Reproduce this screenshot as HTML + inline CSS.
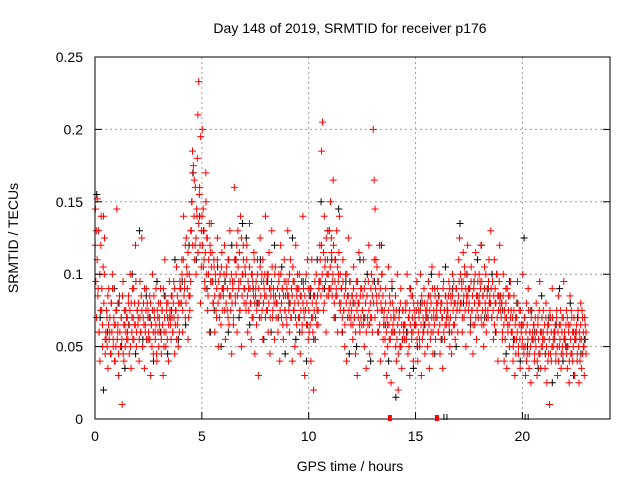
<!DOCTYPE html>
<html><head><meta charset="utf-8"><style>
body{margin:0;background:#fff}
svg{display:block;font-family:"Liberation Sans",sans-serif}
</style></head><body>
<svg id="c" width="640" height="480">
<text x="350" y="33" text-anchor="middle" font-size="14">Day 148 of 2019, SRMTID for receiver p176</text>
<text x="350" y="471" text-anchor="middle" font-size="14">GPS time / hours</text>
<text transform="translate(18,238) rotate(-90)" text-anchor="middle" font-size="14">SRMTID / TECUs</text>
<g id="grid"></g><g id="pts"></g><g id="axes"></g>
</svg>
<script>
const xTicks=[0,5,10,15,20];
const yTicks=[0,0.05,0.1,0.15,0.2,0.25];
const yTickLabels=["0","0.05","0.1","0.15","0.2","0.25"];
const groupStartHours=[0,0.5,1,1.5,2,2.5,3,3.5,4,4.5,5,5.5,6,6.5,7,7.5,8,8.5,9,9.5,10,10.5,11,11.5,12,12.5,13,13.5,14,14.5,15,15.5,16,16.5,17,17.5,18,18.5,19,19.5,20,20.5,21,21.5,22,22.5];
const redMilli=[
[145,130,152,90,60,40,120,75,50,140,100,45],[55,70,35,90,60,45,80,100,50,65,40,75],
[145,60,30,85,50,70,10,95,40,65,75,55],[60,80,45,100,35,70,55,90,65,120,50,75],
[70,40,95,60,125,50,80,35,65,90,55,75],[55,85,30,65,100,45,75,60,90,40,70,50],
[65,90,45,75,30,60,110,50,80,70,40,95],[70,55,85,60,95,45,75,105,65,50,80,90],
[80,110,60,140,90,70,125,100,55,85,75,130],[150,185,175,165,120,100,140,210,233,160,80,130],
[200,145,110,90,170,125,75,100,60,115,135,95],[80,110,60,95,70,125,50,85,100,65,115,90],
[90,120,55,100,75,110,65,130,85,45,95,70],[160,85,110,60,130,95,75,140,50,100,120,80],
[105,75,120,60,90,135,80,55,100,70,115,45],[90,65,110,30,80,125,70,100,55,95,85,140],
[75,100,60,115,45,90,130,70,85,55,105,80],[80,60,100,40,120,70,90,55,110,75,95,65],
[130,85,60,110,70,40,95,75,50,120,65,90],[70,100,45,85,60,140,75,30,95,65,110,55],
[60,90,40,110,70,20,85,55,100,75,65,95],[120,95,185,205,75,140,110,60,100,130,85,90],
[150,125,95,165,70,110,85,130,60,100,140,75],[90,60,110,75,50,100,40,85,125,70,95,65],
[85,55,105,70,45,95,30,80,115,60,90,65],[75,110,50,95,35,85,65,120,45,70,100,60],
[200,165,145,110,80,95,60,120,40,75,100,55],[70,45,90,30,65,105,55,80,25,95,60,75],
[60,85,40,100,20,70,50,90,35,75,65,55],[80,55,100,45,70,30,90,60,85,40,75,65],
[65,95,40,75,55,100,30,80,60,90,45,70],[75,50,95,35,85,60,105,45,70,90,55,80],
[90,60,100,45,80,70,35,95,55,85,65,75],[70,95,50,85,45,100,65,80,55,90,75,60],
[110,125,80,95,60,115,70,100,50,85,120,75],[90,60,105,75,45,95,65,115,55,85,70,100],
[95,120,65,85,50,105,75,60,90,70,110,80],[130,70,95,55,110,80,60,100,40,85,120,75],
[80,55,100,40,70,90,35,65,85,50,95,60],[60,40,85,30,70,55,95,45,75,35,65,50],
[100,50,70,30,80,45,90,35,60,25,75,55],[65,40,55,80,30,70,45,95,35,60,50,75],
[55,35,80,25,65,45,10,70,40,90,50,60],[60,40,75,30,85,50,65,35,70,45,95,55],
[50,75,35,65,25,85,45,70,40,60,30,55],[60,40,75,25,55,80,35,70,50,30,65,45]];
const redMilliCore=[
[120,95,70,110,85,130,60,100,75,140,90,65,105,80,125,55],[60,75,50,85,65,55,70,45,80,60,90,55,70,40,65,50],
[75,55,65,45,80,60,50,70,55,85,45,65,75,50,60,70],[70,55,85,65,75,50,80,60,90,70,55,80,65,95,60,75],
[65,80,55,70,60,85,75,50,70,65,90,60,75,55,80,70],[60,70,55,80,65,50,75,60,85,70,55,65,45,75,60,80],
[70,60,80,55,75,65,90,50,70,85,60,75,55,80,65,70],[75,65,85,70,60,80,70,90,65,75,55,85,70,80,60,95],
[90,80,100,75,110,85,95,120,80,105,90,115,70,100,85,95],[130,150,120,170,140,110,160,125,145,180,115,135,155,120,195,105],
[140,120,105,130,95,115,150,100,125,85,110,135,120,95,105,115],[95,80,105,85,100,75,90,110,80,95,70,100,85,105,90,75],
[85,100,75,95,80,105,90,70,110,85,95,75,100,80,90,65],[95,110,80,100,120,85,105,90,115,75,95,125,85,100,110,90],
[90,100,80,110,85,95,75,105,90,80,100,70,95,85,110,80],[85,95,75,100,80,90,70,105,85,95,75,110,80,90,100,70],
[85,95,75,100,80,90,70,85,95,105,75,90,80,100,85,70],[80,90,70,95,85,75,100,80,90,65,85,95,75,85,70,90],
[85,95,75,100,80,70,90,85,105,75,95,80,70,90,85,100],[80,90,70,85,75,95,65,80,90,70,85,75,100,80,65,90],
[75,85,65,90,70,80,60,85,75,95,70,80,65,85,75,90],[95,110,85,120,100,90,115,80,105,95,125,85,110,100,90,130],
[105,90,115,85,100,120,80,95,110,90,85,105,95,115,80,100],[80,90,70,95,75,85,65,90,80,100,70,85,75,95,80,70],
[75,85,65,90,70,80,60,85,75,95,70,80,65,85,70,90],[75,85,65,90,70,80,60,85,70,95,75,65,80,90,70,85],
[95,80,110,70,90,85,105,75,95,85,65,90,80,100,75,85],[65,75,55,80,60,70,50,75,65,85,55,70,60,80,65,70],
[60,70,50,75,55,65,45,70,60,80,50,65,55,75,60,65],[65,75,55,80,60,70,50,75,65,85,55,70,60,80,65,70],
[65,75,55,80,60,70,50,75,65,85,55,70,60,80,65,75],[70,80,60,85,65,75,55,80,70,90,60,75,65,85,70,75],
[70,80,60,85,65,75,55,80,70,90,60,75,65,85,70,80],[75,85,65,90,70,80,60,85,75,95,65,80,70,90,75,80],
[85,95,75,100,80,90,70,95,85,105,75,90,80,100,85,90],[80,90,70,95,75,85,65,90,80,100,70,85,75,95,80,85],
[80,90,70,95,75,85,65,90,80,100,70,85,75,95,80,85],[80,90,70,95,75,85,65,90,80,100,70,85,75,95,80,85],
[70,80,60,85,65,75,55,80,70,90,60,75,65,85,70,75],[60,70,50,75,55,65,45,70,60,80,50,65,55,75,60,65],
[55,65,45,70,50,60,40,65,55,75,45,60,50,70,55,60],[55,65,45,70,50,60,40,65,55,75,45,60,50,70,55,60],
[55,65,45,70,50,60,40,65,55,75,45,60,50,70,55,60],[55,65,45,70,50,60,40,65,55,75,45,60,50,70,55,60],
[55,65,45,70,50,60,40,65,55,75,45,60,50,70,55,60],[55,65,45,70,50,60,40,65,55,75,45,60,50,70,55,60]];
const blackMilli=[
[155,70,20],[60,45,90],[80,50,35],[65,100,45],[130,55,85],[70,40,95],[60,85,45],[75,110,55],
[95,65,120],[170,110,140],[130,90,60],[75,105,50],[95,60,120],[110,70,135],[125,65,90],[80,110,55],
[95,60,120],[70,105,45],[80,125,55],[60,95,40],[85,55,110],[150,90,130],[110,70,145],[60,95,45],
[80,50,110],[70,100,40],[95,60,120],[65,40,90],[15,75,55],[60,90,35],[50,80,65],[70,100,45],
[85,55,105],[60,90,50],[135,80,100],[65,95,110],[120,70,90],[100,60,85],[75,45,95],[55,80,40],
[125,50,75],[60,35,85],[45,70,25],[65,90,40],[50,80,30],[70,45,55]];
const redBottomHours=[13.8,16.0];
const blackBottomHours=[16.4,20.2];
const X0=95,X1=610,Y0=419,Y1=57,XMAX=24.1,YMAX=0.25;
const xs=h=>X0+(X1-X0)*h/XMAX, ys=v=>Y0-(Y0-Y1)*v/YMAX;
const NS="http://www.w3.org/2000/svg";
function mk(p,t,a){const e=document.createElementNS(NS,t);for(const k in a)e.setAttribute(k,a[k]);p.appendChild(e);return e;}
const grid=document.getElementById('grid'),pts=document.getElementById('pts'),axes=document.getElementById('axes');
xTicks.forEach(t=>{const x=xs(t);
 if(t>0){const g=mk(grid,'line',{x1:x,x2:x,y1:Y1,y2:Y0,stroke:'#a0a0a0','stroke-dasharray':'2,3'});
 
 }
 const tk=mk(axes,'line',{x1:x,x2:x,y1:Y0,y2:Y0-7,stroke:'#000'});
 
 
 const l=mk(axes,'text',{x:x,y:Y0+22,'text-anchor':'middle','font-size':14});l.textContent=t;
 
 });
yTicks.forEach((t,i)=>{const y=ys(t);
 if(i>0&&i<yTicks.length-1){const g=mk(grid,'line',{x1:X0,x2:X1,y1:y,y2:y,stroke:'#a0a0a0','stroke-dasharray':'2,3'});
 
 }
 const tk=mk(axes,'line',{x1:X0,x2:X0+7,y1:y,y2:y,stroke:'#000'});
 
 
 const tk2=mk(axes,'line',{x1:X1,x2:X1-7,y1:y,y2:y,stroke:'#000'});
 
 
 const l=mk(axes,'text',{x:X0-12,y:y+5,'text-anchor':'end','font-size':14});l.textContent=yTickLabels[i];
 
 });
const fr=mk(axes,'rect',{x:X0,y:Y1,width:X1-X0,height:Y0-Y1,fill:'none',stroke:'#000'});


function plus(h,v,col,name){const x=xs(h),y=ys(v);
 const p=mk(pts,'path',{d:`M${x-3.5},${y}h7M${x},${y-3.5}v7`,stroke:col,'stroke-width':1});
 
 }
blackMilli.forEach((g,gi)=>g.forEach((v,i)=>plus(groupStartHours[gi]+0.08+i*0.16,v/1000,'#000','black-point')));
redMilli.forEach((g,gi)=>g.forEach((v,i)=>plus(groupStartHours[gi]+(i+0.5)*0.5/g.length,v/1000,'#f00','red-point')));
redMilliCore.forEach((g,gi)=>g.forEach((v,i)=>plus(groupStartHours[gi]+(i+0.25)*0.5/g.length,v/1000,'#f00','red-point')));
redBottomHours.forEach(h=>{const r=mk(axes,'rect',{x:xs(h)-2,y:Y0-4,width:4,height:6,fill:'#f00'});
 
 });
blackBottomHours.forEach(h=>{const r=mk(axes,'path',{d:`M${xs(h)-1.5},${Y0-5}v6M${xs(h)+1.5},${Y0-5}v6`,stroke:'#000'});
 
 });
</script>
</body></html>
